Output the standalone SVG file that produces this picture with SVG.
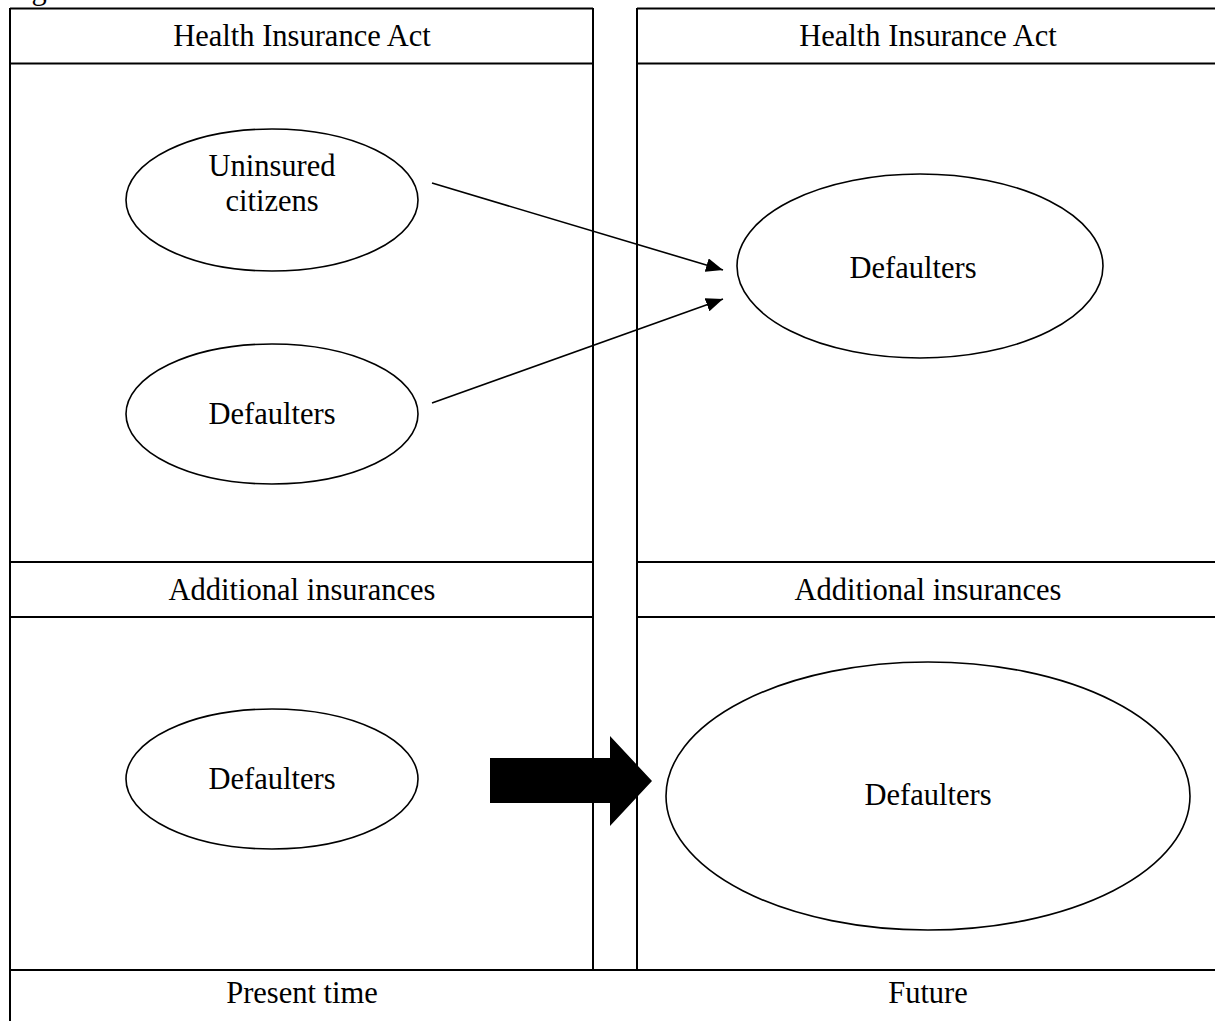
<svg xmlns="http://www.w3.org/2000/svg" width="1215" height="1021" viewBox="0 0 1215 1021">
<style>
  text { font-family: "Liberation Serif", "Times New Roman", serif; font-size: 30.5px; fill: #000; text-anchor: middle; }
  .frame { fill: none; stroke: #000; stroke-width: 2; }
  .ell { fill: #fff; stroke: #000; stroke-width: 1.6; }
  .conn { stroke: #000; stroke-width: 1.6; fill: none; }
</style>
<defs>
  <marker id="ah" markerUnits="userSpaceOnUse" markerWidth="18" markerHeight="14" refX="17" refY="7" orient="auto">
    <path d="M0,0 L17,7 L0,14 Z" fill="#000"/>
  </marker>
</defs>
<rect width="1215" height="1021" fill="#fff"/>
<text x="6" y="-1" style="text-anchor:start">Figure</text>

<g id="frame">
  <line class="frame" x1="10" y1="8.5" x2="593" y2="8.5"/>
  <line class="frame" x1="637" y1="8.5" x2="1215" y2="8.5"/>
  <line class="frame" x1="10" y1="8" x2="10" y2="1021"/>
  <line class="frame" x1="593" y1="8" x2="593" y2="970"/>
  <line class="frame" x1="637" y1="8" x2="637" y2="970"/>
  <line class="frame" x1="10" y1="63.5" x2="593" y2="63.5"/>
  <line class="frame" x1="637" y1="63.5" x2="1215" y2="63.5"/>
  <line class="frame" x1="10" y1="562" x2="593" y2="562"/>
  <line class="frame" x1="637" y1="562" x2="1215" y2="562"/>
  <line class="frame" x1="10" y1="617" x2="593" y2="617"/>
  <line class="frame" x1="637" y1="617" x2="1215" y2="617"/>
  <line class="frame" x1="10" y1="970" x2="1215" y2="970"/>
</g>

<g id="labels">
  <text x="302" y="46">Health Insurance Act</text>
  <text x="928" y="46">Health Insurance Act</text>
  <text x="302" y="600">Additional insurances</text>
  <text x="928" y="600">Additional insurances</text>
  <text x="302" y="1003">Present time</text>
  <text x="928" y="1003">Future</text>
</g>

<g id="connectors">
  <line class="conn" x1="432" y1="183" x2="723" y2="270" marker-end="url(#ah)"/>
  <line class="conn" x1="432" y1="403" x2="723" y2="299" marker-end="url(#ah)"/>
  <polygon points="490,758 610,758 610,736 652,781 610,826 610,803 490,803" fill="#000"/>
</g>

<g id="node-uninsured">
  <ellipse class="ell" cx="272" cy="200" rx="146" ry="71"/>
  <text x="272" y="176">Uninsured</text>
  <text x="272" y="211">citizens</text>
</g>
<g id="node-defaulters-present-hia">
  <ellipse class="ell" cx="272" cy="414" rx="146" ry="70"/>
  <text x="272" y="424">Defaulters</text>
</g>
<g id="node-defaulters-present-add">
  <ellipse class="ell" cx="272" cy="779" rx="146" ry="70"/>
  <text x="272" y="789">Defaulters</text>
</g>
<g id="node-defaulters-future-hia">
  <ellipse class="ell" cx="920" cy="266" rx="183" ry="92"/>
  <text x="913" y="278">Defaulters</text>
</g>
<g id="node-defaulters-future-add">
  <ellipse class="ell" cx="928" cy="796" rx="262" ry="134"/>
  <text x="928" y="805">Defaulters</text>
</g>
</svg>
